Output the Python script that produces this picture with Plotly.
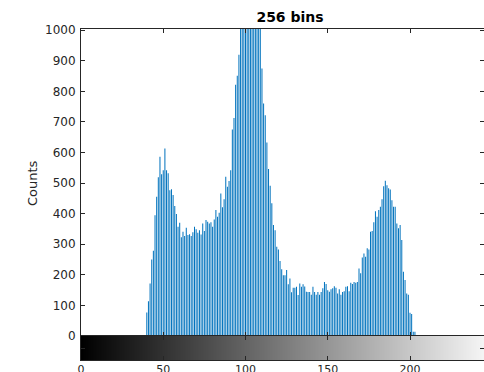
import numpy as np
import plotly.graph_objects as go

# Histogram counts for gray levels 40..204 (all other levels are empty)
first_level = 40
counts_nonzero = [
    77, 114, 172, 250, 279, 395, 455, 519, 586, 529,       # 40-49
    542, 613, 542, 532, 477, 480, 461, 425, 399, 357,       # 50-59
    370, 323, 341, 327, 354, 330, 333, 327, 339, 357,       # 60-69
    349, 338, 346, 332, 368, 343, 379, 374, 368, 372,       # 70-79
    357, 381, 412, 390, 403, 466, 421, 447, 521, 488,       # 80-89
    507, 542, 675, 713, 822, 851, 920, 1080, 1150, 1220,    # 90-99
    1300, 1360, 1410, 1390, 1350, 1300, 1240, 1180, 1120, 1060,  # 100-109
    875, 760, 722, 633, 546, 491, 434, 363, 346, 292,       # 110-119
    283, 245, 218, 199, 199, 216, 169, 188, 143, 158,       # 120-129
    158, 161, 134, 172, 161, 169, 162, 145, 144, 144,       # 130-139
    135, 161, 144, 135, 144, 135, 144, 156, 177, 170,       # 140-149
    150, 145, 153, 156, 163, 158, 139, 153, 135, 144,       # 150-159
    146, 161, 163, 146, 174, 170, 177, 174, 177, 221,       # 160-169
    205, 257, 270, 259, 287, 283, 341, 343, 372, 408,       # 170-179
    390, 412, 423, 447, 490, 508, 493, 483, 479, 444,       # 180-189
    423, 423, 368, 352, 363, 314, 210, 183, 139, 135,       # 190-199
    76, 72, 14, 14,                                         # 200-203
]

levels = np.arange(256)
counts = np.zeros(256)
counts[first_level:first_level + len(counts_nonzero)] = counts_nonzero

x_ticks = [0, 50, 100, 150, 200, 250]
y_ticks = list(range(0, 1001, 100))

axis_color = "#262626"
font_family = "DejaVu Sans"

fig = go.Figure()

# thin stems, one per gray level (slightly translucent so they keep sub-pixel widths)
fig.add_trace(go.Bar(
    x=levels, y=counts,
    marker=dict(color="rgba(0,114,189,0.995)", line=dict(width=0)),
    xaxis="x", yaxis="y", showlegend=False,
))

# gray-level strip beneath the histogram
fig.add_trace(go.Heatmap(
    x=levels + 0.5, y=[0.5], z=[levels.tolist()],
    colorscale=[[0, "black"], [1, "white"]], zmin=0, zmax=255,
    showscale=False, xaxis="x2", yaxis="y2", hoverinfo="skip",
))

W, H = 484, 372
ml, mr, mt, mb = 81, 0, 29, 12
plot_h = H - mt - mb
strip_h = 24
split = strip_h / plot_h
xr = [0, (W - ml - mr) / 1.645]

common_axis = dict(
    showline=True, linecolor=axis_color, linewidth=1, mirror="ticks",
    ticks="inside", tickcolor=axis_color, ticklen=4, showgrid=False,
    zeroline=False, automargin=False,
)

fig.update_layout(
    template="none",
    width=W, height=H,
    margin=dict(l=ml, r=mr, t=mt, b=mb),
    paper_bgcolor="white", plot_bgcolor="white",
    font=dict(family=font_family, color=axis_color),
    bargap=0.38,
    xaxis=dict(domain=[0, 1], range=xr, anchor="y", tickvals=x_ticks,
               showticklabels=False, **common_axis),
    yaxis=dict(domain=[split, 1], range=[0, 1004], anchor="x",
               tickvals=y_ticks, tickfont=dict(size=12, color=axis_color),
               ticklabelstandoff=2, **common_axis),
    xaxis2=dict(domain=[0, 1], range=xr, anchor="y2", tickvals=x_ticks,
                tickfont=dict(size=11, color=axis_color),
                ticklabelstandoff=-1, **common_axis),
    yaxis2=dict(domain=[0, split], range=[0, 1], anchor="x2",
                tickvals=[0.5], showticklabels=False, **common_axis),
    title=dict(text="<b>256 bins</b>", x=(290 - ml) / (W - ml - mr),
               xref="paper", xanchor="center", y=1 - 17 / H,
               yref="container", yanchor="middle",
               font=dict(size=14, color="black", family=font_family)),
    annotations=[dict(
        text="Counts", xref="paper", yref="paper",
        x=(32 - ml) / (W - ml - mr), y=(H - mb - 183) / plot_h,
        xanchor="center", yanchor="middle", textangle=-90,
        showarrow=False, font=dict(size=13, color=axis_color, family=font_family),
    )],
)

fig.write_html("out.html")
